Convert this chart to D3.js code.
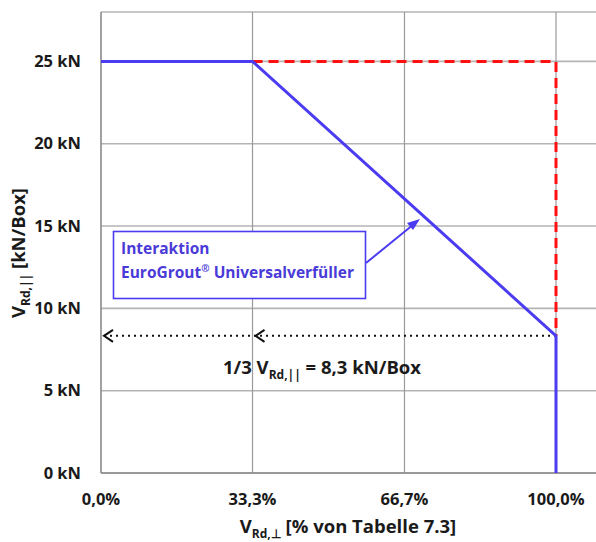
<!DOCTYPE html>
<html><head><meta charset="utf-8">
<script src="https://cdn.jsdelivr.net/npm/d3@7"></script>
<style>
html,body{margin:0;padding:0;background:#fff;}
svg{display:block;font-family:"Open Sans",Lato,sans-serif;font-weight:bold;}
</style></head>
<body><svg id="c" width="596" height="542"></svg>
<script>
// data
const yTicks = [0, 5, 10, 15, 20, 25];
const yTickLabels = ["0 kN", "5 kN", "10 kN", "15 kN", "20 kN", "25 kN"];
const xTicks = [0, 33.3, 66.7, 100];
const xTickLabels = ["0,0%", "33,3%", "66,7%", "100,0%"];
const interactionX = [0, 33.3, 100, 100];
const interactionY = [25, 25, 8.33, 0];
const limitX = [33.3, 100, 100];
const limitY = [25, 25, 8.33];
const thirdValue = 8.33;
const thirdArrowX = [0, 33.3];

const svg = d3.select("#c");
const x = d3.scaleLinear().domain([0, 100]).range([101, 556]);
const y = d3.scaleLinear().domain([0, 28]).range([473, 12]);
const xMax = x.invert(600);

const blue = "#4b3cf2";
const ink = "#1a1a1a";
// grid
const g = svg.append("g");
g.selectAll(".hg").data(yTicks.concat([28])).enter().append("line")
  .attr("x1", x(0)).attr("x2", x(xMax)).attr("y1", d => y(d)).attr("y2", d => y(d))
  .attr("stroke", "#b4b4b4").attr("stroke-width", 1.6);
g.selectAll(".vg").data(xTicks.slice(1)).enter().append("line")
  .attr("x1", d => x(d)).attr("x2", d => x(d)).attr("y1", y(28)).attr("y2", y(0))
  .attr("stroke", "#9a9a9a").attr("stroke-width", 1.2);
// axes lines
g.append("line").attr("x1", x(0)).attr("x2", x(0)).attr("y1", y(28)).attr("y2", y(0))
  .attr("stroke", "#8a8a8a").attr("stroke-width", 1.6);
g.append("line").attr("x1", x(0)).attr("x2", x(xMax)).attr("y1", y(0)).attr("y2", y(0))
  .attr("stroke", "#8a8a8a").attr("stroke-width", 1.6);

// tick labels
svg.selectAll(".yl").data(yTicks).enter().append("text")
  .attr("x", 81).attr("y", d => y(d)).attr("dy", "0.35em").attr("text-anchor", "end")
  .attr("font-size", 16.5).attr("fill", ink).text((d, i) => yTickLabels[i]);
svg.selectAll(".xl").data(xTicks).enter().append("text")
  .attr("x", d => x(d)).attr("y", 505).attr("text-anchor", "middle")
  .attr("font-size", 16.5).attr("fill", ink).text((d, i) => xTickLabels[i]);

// axis titles
const yt = svg.append("text").attr("transform", "translate(25,253) rotate(-90)")
  .attr("text-anchor", "middle").attr("font-size", 18.5).attr("fill", ink);
yt.append("tspan").text("V");
yt.append("tspan").attr("font-size", 12).attr("dy", 5).text("Rd,||");
yt.append("tspan").attr("dy", -5).text(" [kN/Box]");
const xt = svg.append("text").attr("x", 348).attr("y", 533)
  .attr("text-anchor", "middle").attr("font-size", 18.5).attr("fill", ink);
xt.append("tspan").text("V");
xt.append("tspan").attr("font-size", 12).attr("dy", 5).text("Rd,⊥");
xt.append("tspan").attr("dy", -5).text(" [% von Tabelle 7.3]");

// limit dashed
const line = d3.line().x(d => x(d[0])).y(d => y(d[1]));
svg.append("path").datum(limitX.map((v, i) => [v, limitY[i]])).attr("d", line)
  .attr("fill", "none").attr("stroke", "#ff1010").attr("stroke-width", 3)
  .attr("stroke-dasharray", "10,6");

// dotted third line
svg.append("line").attr("x1", x(0) + 3).attr("x2", x(100)).attr("y1", y(thirdValue)).attr("y2", y(thirdValue))
  .attr("stroke", "#111").attr("stroke-width", 2).attr("stroke-dasharray", "2,4");
svg.selectAll(".chev").data(thirdArrowX).enter().append("path")
  .attr("d", d => `M${x(d) + 12},${y(thirdValue) - 6} L${x(d) + 3},${y(thirdValue)} L${x(d) + 12},${y(thirdValue) + 6}`)
  .attr("fill", "none").attr("stroke", "#111").attr("stroke-width", 2);

// interaction line
svg.append("path").datum(interactionX.map((v, i) => [v, interactionY[i]])).attr("d", line)
  .attr("fill", "none").attr("stroke", blue).attr("stroke-width", 3).attr("stroke-linejoin", "round");

// label third
const lt = svg.append("text").attr("x", 322).attr("y", 374).attr("text-anchor", "middle")
  .attr("font-size", 18.5).attr("fill", ink);
lt.append("tspan").text("1/3 V");
lt.append("tspan").attr("font-size", 12).attr("dy", 5).text("Rd,||");
lt.append("tspan").attr("dy", -5).text(" = 8,3 kN/Box");

// annotation box
svg.append("rect").attr("x", 113.5).attr("y", 231.5).attr("width", 252).attr("height", 67)
  .attr("fill", "#fff").attr("stroke", blue).attr("stroke-width", 1.6);
svg.append("text").attr("x", 121).attr("y", 254).attr("font-size", 15.5).attr("fill", "#4a3ad8").text("Interaktion");
const at = svg.append("text").attr("x", 121).attr("y", 278).attr("font-size", 15.5).attr("fill", "#4a3ad8");
at.append("tspan").text("EuroGrout");
at.append("tspan").attr("font-size", 10).attr("dy", -6).text("®");
at.append("tspan").attr("dy", 6).text(" Universalverfüller");
// pointer arrow
svg.append("line").attr("x1", 366).attr("y1", 263).attr("x2", 414).attr("y2", 224)
  .attr("stroke", blue).attr("stroke-width", 2);
svg.append("path").attr("d", "M420,219 L407,223 L413,230 Z").attr("fill", blue);
</script></body></html>
